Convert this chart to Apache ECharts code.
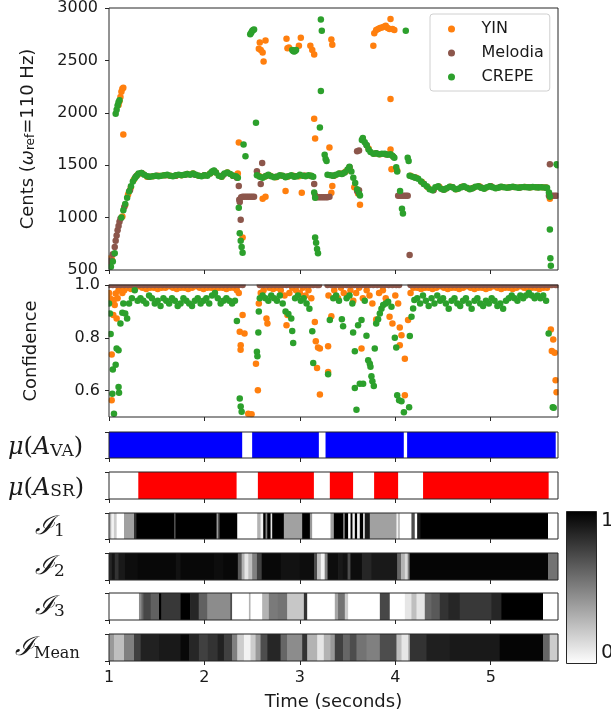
<!DOCTYPE html>
<html><head><meta charset="utf-8">
<script src="https://cdn.jsdelivr.net/npm/echarts@6/dist/echarts.min.js"></script>
<style>html,body{margin:0;padding:0;background:#fff}#c{width:611px;height:721px}</style>
</head><body><div id="c"></div>
<script>
// ---------- axes / ticks ----------
const timeRange = [1, 5.705];
const timeTicks = [1, 2, 3, 4, 5];
const pitchRange = [500, 3000];
const confRange = [0.5, 1.0];
const confTicks = [0.6, 0.8, 1.0];
const seriesNames = ['YIN', 'Melodia', 'CREPE'];
const colorbarTicks = ['1', '0'];

// ---------- pitch (cents) [time, cents] ----------
const yinPitch = [
[1.00,610],[1.01,560],[1.03,600],
[1.10,2075],[1.11,2110],[1.12,2150],[1.13,2200],[1.14,2230],[1.15,2240],[1.15,1792],
[1.14,1010],[1.17,1120],[1.20,1220],[1.23,1290],[1.26,1360],[1.30,1410],[1.35,1420],[1.40,1390],[1.46,1395],[1.52,1400],[1.58,1405],[1.64,1400],[1.70,1400],[1.76,1405],[1.82,1415],[1.88,1420],[1.94,1400],[2.00,1405],[2.06,1420],[2.12,1430],[2.18,1390],[2.24,1430],[2.30,1400],[2.35,1420],
[2.36,1717],[2.40,811],
[2.57,2610],[2.58,2670],[2.59,2600],[2.61,2575],[2.62,2490],[2.64,2690],[2.61,1179],[2.64,1198],
[2.57,1400],[2.63,1390],[2.69,1400],[2.75,1385],[2.81,1400],[2.87,1390],[2.93,1400],[2.99,1395],[3.05,1400],[3.11,1400],
[2.86,2707],[2.885,2622],[2.87,2615],[2.85,1255],[2.99,2640],[3.01,2717],[3.02,1236],
[3.11,2640],[3.13,2600],[3.15,2557],[3.15,1943],[3.16,1755],
[3.31,1670],[3.33,2700],[3.34,2650],[3.33,1236],[3.34,1302],
[3.36,1400],[3.42,1420],[3.48,1440],[3.52,1475],[3.57,1290],[3.61,1230],[3.63,1123],
[3.66,1750],[3.72,1660],[3.78,1610],[3.84,1605],[3.90,1605],[3.95,1600],[3.95,1651],[3.96,1462],[4.02,1450],
[3.77,2640],[3.78,2760],[3.80,2790],[3.82,2800],[3.84,2810],[3.86,2815],[3.88,2820],[3.90,2830],[3.92,2810],[3.94,2800],[3.95,2896],[3.97,2800],[3.99,2790],[3.95,2132],
[4.16,1400],[4.22,1380],[4.28,1340],[4.34,1290],[4.40,1265],[4.46,1295],[4.52,1270],[4.58,1295],[4.64,1270],[4.70,1295],[4.76,1280],[4.82,1285],[4.88,1300],[4.94,1280],[5.00,1298],[5.06,1282],[5.12,1293],[5.18,1287],[5.24,1293],[5.30,1287],[5.36,1291],[5.42,1290],[5.48,1290],[5.54,1290],[5.58,1288],[5.62,1179]
];
const melodiaPitch = [
[1.00,560],[1.02,590],[1.04,650],[1.06,720],[1.07,780],[1.08,830],[1.09,880],[1.10,920],[1.11,960],[1.12,990],
[1.16,1100],[1.22,1260],[1.28,1390],[1.34,1425],[1.42,1390],[1.50,1400],[1.60,1405],[1.70,1400],[1.80,1410],[1.90,1410],[2.00,1405],[2.10,1445],[2.20,1410],[2.30,1400],
[2.34,1380],[2.36,1302],[2.365,1170],[2.38,980],[2.37,1150],[2.385,1195],[2.40,1200],[2.42,1200],[2.44,1200],[2.46,1200],[2.48,1200],[2.50,1200],[2.52,1200],[2.55,1443],[2.59,1320],[2.605,1522],
[2.65,1400],[2.75,1390],[2.85,1390],[2.95,1395],[3.05,1400],[3.12,1395],
[3.15,1320],[3.16,1210],[3.17,1195],[3.19,1195],[3.21,1195],[3.23,1195],[3.25,1195],[3.27,1195],[3.29,1195],[3.31,1200],
[3.35,1400],[3.45,1420],[3.52,1480],[3.60,1255],[3.62,1260],[3.60,1632],[3.62,1640],[3.70,1690],[3.80,1615],[3.90,1605],[3.98,1580],
[4.03,1208],[4.05,1208],[4.07,1208],[4.09,1208],[4.11,1208],[4.13,1208],[4.15,642],
[4.20,1385],[4.30,1320],[4.40,1262],[4.50,1268],[4.60,1290],[4.70,1292],[4.80,1278],[4.90,1287],[5.00,1298],[5.10,1293],[5.20,1290],[5.30,1286],[5.40,1289],[5.50,1289],[5.58,1286],
[5.61,1209],[5.63,1209],[5.65,1209],[5.67,1209],[5.69,1209],[5.71,1209],[5.62,1509]
];
const crepePitch = [
[1.02,530],[1.04,580],[1.06,660],
[1.07,1990],[1.08,2030],[1.09,2070],[1.10,2100],[1.11,2120],
[1.13,1000],[1.15,1070],[1.17,1130],[1.19,1190],[1.21,1250],[1.23,1300],[1.25,1345],[1.27,1375],[1.29,1400],[1.31,1420],[1.34,1425],[1.37,1410],[1.40,1395],[1.43,1390],[1.46,1395],[1.49,1400],[1.52,1395],[1.55,1400],[1.58,1405],[1.61,1410],[1.64,1400],[1.67,1395],[1.70,1405],[1.73,1410],[1.76,1405],[1.79,1410],[1.82,1415],[1.85,1410],[1.88,1420],[1.91,1410],[1.94,1400],[1.97,1395],[2.00,1405],[2.03,1400],[2.06,1420],[2.08,1440],[2.10,1450],[2.12,1430],[2.15,1400],[2.18,1390],[2.21,1420],[2.24,1430],[2.27,1415],[2.30,1400],[2.33,1395],[2.35,1380],
[2.36,1094],[2.37,850],[2.38,780],[2.39,720],[2.40,665],[2.41,1698],[2.43,1585],
[2.48,2750],[2.49,2765],[2.50,2780],[2.51,2790],[2.52,2795],[2.54,1906],
[2.55,1405],[2.58,1390],[2.61,1380],[2.64,1395],[2.67,1410],[2.70,1395],[2.73,1385],[2.76,1390],[2.79,1405],[2.82,1400],[2.85,1385],[2.88,1395],[2.91,1405],[2.94,1390],[2.97,1395],[3.00,1410],[3.03,1400],[3.06,1395],[3.09,1405],[3.12,1400],[3.14,1390],
[2.92,2600],[2.93,2590],[2.94,2585],[2.95,2590],[2.96,2600],
[3.15,1240],[3.16,1190],[3.16,811],[3.17,760],[3.18,700],[3.19,660],
[3.21,1860],[3.22,2208],[3.22,2890],[3.23,2783],[3.26,1600],[3.27,1560],[3.28,1540],
[3.29,1410],[3.32,1405],[3.35,1400],[3.38,1410],[3.41,1420],[3.44,1415],[3.47,1430],[3.50,1460],[3.52,1485],[3.54,1440],[3.56,1380],[3.58,1330],[3.60,1270],[3.62,1230],[3.63,1210],
[3.65,1740],[3.66,1760],[3.68,1720],[3.70,1690],[3.72,1650],[3.74,1625],[3.77,1610],[3.80,1615],[3.83,1605],[3.86,1610],[3.89,1610],[3.92,1600],[3.95,1605],[3.97,1590],[3.99,1570],[4.01,1480],[4.02,1440],
[4.05,1255],[4.07,1085],[4.08,1040],[4.11,2783],[4.13,1570],[4.14,1540],
[4.15,1400],[4.18,1390],[4.21,1380],[4.24,1370],[4.27,1345],[4.30,1320],[4.33,1300],[4.36,1270],[4.39,1260],[4.42,1290],[4.45,1300],[4.48,1275],[4.51,1265],[4.54,1280],[4.57,1295],[4.60,1290],[4.63,1270],[4.66,1275],[4.69,1290],[4.72,1300],[4.75,1285],[4.78,1270],[4.81,1280],[4.84,1295],[4.87,1300],[4.90,1285],[4.93,1275],[4.96,1290],[4.99,1300],[5.02,1290],[5.05,1280],[5.08,1285],[5.11,1295],[5.14,1290],[5.17,1285],[5.20,1290],[5.23,1295],[5.26,1290],[5.29,1285],[5.32,1290],[5.35,1292],[5.38,1290],[5.41,1288],[5.44,1292],[5.47,1290],[5.50,1288],[5.53,1290],[5.56,1288],[5.59,1285],[5.61,1240],[5.62,1200],
[5.62,887],[5.625,613],[5.63,540],[5.69,1509],[5.70,1500]
];

// ---------- confidence [time, confidence] ----------
const yinConf = [
[1.00,.97],[1.01,.95],[1.028,.737],[1.028,.563],[1.045,.886],[1.05,.943],[1.06,.924],[1.07,.968],[1.08,.873],[1.09,.95],[1.10,.98],[1.12,.99],[1.14,.97],[1.16,.98],
[1.19,.99],[1.23,.985],[1.27,.99],[1.31,.995],[1.35,.99],[1.39,.985],[1.43,.99],[1.47,.99],[1.51,.985],[1.55,.99],[1.59,.99],[1.63,.995],[1.67,.99],[1.71,.985],[1.75,.99],[1.79,.99],[1.83,.985],[1.87,.99],[1.91,.995],[1.95,.99],[1.99,.985],[2.03,.99],[2.07,.99],[2.11,.985],[2.15,.99],[2.19,.99],[2.23,.985],[2.27,.99],[2.31,.99],[2.34,.98],
[2.36,.97],[2.37,.823],[2.379,.755],[2.38,.772],[2.40,.886],[2.42,.816],[2.459,.512],[2.494,.51],[2.54,.702],[2.56,.601],[2.57,.93],[2.59,.97],[2.62,.98],[2.65,.873],[2.66,.854],[2.68,.99],[2.72,.985],[2.76,.99],[2.80,.98],[2.84,.96],[2.86,.848],[2.87,.886],[2.89,.97],[2.92,.99],[2.96,.98],[3.00,.97],[3.03,.99],[3.06,.96],[3.09,.98],[3.12,.95],
[3.157,.86],[3.167,.787],[3.18,.686],[3.19,.763],[3.21,.759],[3.21,.585],[3.296,.768],[3.296,.67],[3.30,.96],[3.33,.882],[3.36,.98],[3.40,.95],[3.43,.99],[3.46,.97],[3.50,.96],[3.53,.98],[3.56,.94],[3.59,.97],[3.62,.99],[3.646,.759],[3.66,.95],[3.70,.98],[3.73,.96],[3.76,.93],[3.80,.869],[3.83,.97],[3.87,.98],[3.90,.95],[3.94,.88],[3.97,.854],[4.00,.96],[4.03,.93],[4.047,.839],[4.047,.772],[4.065,.81],[4.10,.721],[4.10,.582],[4.134,.867],[4.16,.97],[4.19,.99],
[4.23,.99],[4.27,.985],[4.31,.99],[4.35,.99],[4.39,.985],[4.43,.99],[4.47,.995],[4.51,.99],[4.55,.985],[4.59,.99],[4.63,.99],[4.67,.985],[4.71,.99],[4.75,.995],[4.79,.99],[4.83,.985],[4.87,.99],[4.91,.99],[4.95,.985],[4.99,.99],[5.03,.995],[5.07,.99],[5.11,.985],[5.15,.99],[5.19,.99],[5.23,.985],[5.27,.99],[5.31,.995],[5.35,.99],[5.39,.985],[5.43,.99],[5.47,.99],[5.51,.985],[5.55,.99],[5.59,.99],
[5.63,.831],[5.64,.75],[5.655,.794],[5.67,.743],[5.68,.639],[5.69,.594]
];
const melodiaConf = [
[1.00,1],[1.04,1],[1.08,1],[1.12,1],[1.16,1],[1.20,1],[1.24,1],[1.28,1],[1.32,1],[1.36,1],[1.40,1],[1.44,1],[1.48,1],[1.52,1],[1.56,1],[1.60,1],[1.64,1],[1.68,1],[1.72,1],[1.76,1],[1.80,1],[1.84,1],[1.88,1],[1.92,1],[1.96,1],[2.00,1],[2.04,1],[2.08,1],[2.12,1],[2.16,1],[2.20,1],[2.24,1],[2.28,1],[2.32,1],[2.36,1],[2.40,1],
[2.58,1],[2.62,1],[2.66,1],[2.70,1],[2.74,1],[2.78,1],[2.82,1],[2.86,1],[2.90,1],[2.94,1],[2.98,1],[3.02,1],[3.06,1],[3.10,1],[3.14,1],[3.18,1],[3.20,1],
[3.29,1],[3.33,1],[3.37,1],[3.41,1],[3.45,1],[3.49,1],[3.53,1],[3.57,1],[3.61,1],[3.65,1],[3.69,1],[3.73,1],[3.77,1],[3.81,1],[3.85,1],[3.89,1],[3.93,1],[3.97,1],[4.01,1],[4.04,1],
[4.16,1],[4.20,1],[4.24,1],[4.28,1],[4.32,1],[4.36,1],[4.40,1],[4.44,1],[4.48,1],[4.52,1],[4.56,1],[4.60,1],[4.64,1],[4.68,1],[4.72,1],[4.76,1],[4.80,1],[4.84,1],[4.88,1],[4.92,1],[4.96,1],[5.00,1],[5.04,1],[5.08,1],[5.12,1],[5.16,1],[5.20,1],[5.24,1],[5.28,1],[5.32,1],[5.36,1],[5.40,1],[5.44,1],[5.48,1],[5.52,1],[5.56,1],[5.60,1],[5.64,1],[5.68,1],[5.70,1]
];
const crepeConf = [
[1.00,.93],[1.01,.892],[1.017,.814],[1.035,.588],[1.04,.68],[1.052,.512],[1.07,.698],[1.08,.759],[1.10,.753],[1.10,.614],[1.105,.592],[1.12,.854],[1.14,.895],[1.15,.93],[1.17,.892],[1.19,.873],
[1.21,.93],[1.24,.95],[1.27,.98],[1.30,.94],[1.33,.95],[1.36,.94],[1.39,.93],[1.42,.96],[1.45,.95],[1.48,.93],[1.51,.94],[1.54,.92],[1.57,.95],[1.60,.94],[1.63,.93],[1.66,.95],[1.69,.94],[1.72,.92],[1.75,.93],[1.78,.95],[1.81,.94],[1.84,.93],[1.87,.92],[1.90,.94],[1.93,.95],[1.96,.93],[1.99,.94],[2.02,.95],[2.05,.93],[2.08,.96],[2.11,.97],[2.14,.95],[2.17,.93],[2.20,.94],[2.23,.95],[2.26,.94],[2.29,.93],[2.32,.94],
[2.34,.864],[2.37,.57],[2.38,.54],[2.39,.52],[2.55,.747],[2.555,.73],[2.565,.82],[2.57,.90],
[2.58,.95],[2.61,.96],[2.64,.95],[2.67,.94],[2.70,.96],[2.73,.95],[2.76,.94],[2.79,.96],[2.82,.93],[2.85,.90],[2.88,.89],[2.91,.873],[2.92,.826],[2.93,.78],[2.95,.95],[2.98,.96],[3.01,.94],[3.04,.95],[3.07,.93],[3.10,.91],[3.13,.825],[3.14,.705],
[3.296,.662],[3.314,.867],[3.35,.95],[3.38,.96],[3.41,.94],[3.44,.87],[3.453,.844],[3.49,.95],[3.52,.96],[3.55,.93],[3.558,.82],[3.576,.749],[3.576,.61],[3.593,.527],[3.61,.848],[3.628,.626],[3.646,.867],[3.663,.626],[3.68,.94],[3.698,.808],[3.716,.715],[3.733,.702],[3.74,.69],[3.75,.654],[3.76,.635],[3.775,.617],[3.785,.759],[3.80,.854],[3.82,.87],[3.838,.892],[3.855,.91],[3.873,.924],[3.90,.93],[3.925,.937],[3.96,.918],[3.995,.80],[4.01,.763],[4.02,.582],[4.04,.563],[4.065,.56],[4.09,.518],[4.145,.537],[4.152,.807],[4.17,.88],[4.187,.911],[4.20,.943],
[4.23,.95],[4.26,.93],[4.29,.96],[4.32,.94],[4.35,.92],[4.38,.95],[4.41,.93],[4.44,.96],[4.47,.94],[4.50,.95],[4.53,.93],[4.56,.91],[4.59,.94],[4.62,.95],[4.65,.93],[4.68,.92],[4.71,.94],[4.74,.95],[4.77,.93],[4.80,.91],[4.83,.94],[4.86,.95],[4.89,.93],[4.92,.92],[4.95,.94],[4.98,.93],[5.01,.95],[5.04,.94],[5.07,.92],[5.10,.93],[5.13,.91],[5.16,.94],[5.19,.95],[5.22,.96],[5.25,.95],[5.28,.94],[5.31,.96],[5.34,.95],[5.37,.96],[5.40,.97],[5.43,.96],[5.46,.95],[5.49,.96],[5.52,.95],[5.55,.96],[5.58,.94],
[5.607,.816],[5.65,.537],[5.66,.535]
];

// ---------- strips: [start time, end time, value] ----------
const vaSegments = [[1.0,2.396,1],[2.396,2.50,0],[2.50,3.199,1],[3.199,3.269,0],[3.269,4.089,1],[4.089,4.124,0],[4.124,5.681,1],[5.681,5.705,0]];
const srSegments = [[1.0,1.307,0],[1.307,2.337,1],[2.337,2.56,0],[2.56,3.147,1],[3.147,3.314,0],[3.314,3.558,1],[3.558,3.778,0],[3.778,4.03,1],[4.03,4.291,0],[4.291,5.607,1],[5.607,5.705,0]];
const i1Segments = [[1.0,1.024,0.3],[1.024,1.052,0.05],[1.052,1.08,0.2],[1.08,1.157,0],[1.157,1.262,0.37],[1.262,1.286,0.8],[1.286,1.681,1],[1.681,1.698,0.7],[1.698,2.127,1],[2.127,2.145,0.4],[2.145,2.162,0.8],[2.162,2.344,1],[2.344,2.553,0],[2.553,2.588,0.3],[2.588,2.616,0.05],[2.616,2.64,1],[2.64,2.658,0.5],[2.658,2.693,1],[2.693,2.71,0.1],[2.71,2.832,1],[2.832,3.024,0.37],[3.024,3.105,1],[3.105,3.129,0.4],[3.129,3.321,0],[3.321,3.356,0.37],[3.356,3.454,1],[3.454,3.471,0.5],[3.471,3.506,1],[3.506,3.531,0],[3.531,3.551,1],[3.551,3.576,0.05],[3.576,3.6,1],[3.6,3.628,0.05],[3.628,3.663,1],[3.663,3.68,0.1],[3.68,3.733,0.9],[3.733,4.012,0.37],[4.012,4.03,0.05],[4.03,4.047,0.3],[4.047,4.169,0],[4.169,4.204,0.7],[4.204,4.229,0],[4.229,4.264,0.9],[4.264,5.6,1],[5.6,5.705,0]];
const i2Segments = [[1.0,1.03,0.85],[1.03,1.06,0.92],[1.06,1.10,0.8],[1.10,1.16,0.9],[1.16,1.30,0.95],[1.30,1.70,0.97],[1.70,1.75,0.93],[1.75,2.10,0.97],[2.10,2.20,0.95],[2.20,2.35,0.97],[2.35,2.39,0.65],[2.39,2.42,0.3],[2.42,2.46,0.1],[2.46,2.50,0.25],[2.50,2.55,0.5],[2.55,2.60,0.75],[2.60,2.80,0.97],[2.80,3.00,0.93],[3.00,3.15,0.95],[3.15,3.18,0.7],[3.18,3.22,0.25],[3.22,3.26,0.05],[3.26,3.29,0.5],[3.29,3.40,0.95],[3.40,3.45,0.9],[3.45,3.50,0.93],[3.50,3.53,0.7],[3.53,3.65,0.95],[3.65,3.75,0.85],[3.75,4.02,0.9],[4.02,4.06,0.6],[4.06,4.10,0.3],[4.10,4.13,0.15],[4.13,4.15,0.5],[4.15,5.60,0.98],[5.60,5.705,0.55]];
const i3Segments = [[1.0,1.314,0],[1.314,1.34,0.45],[1.34,1.36,0.6],[1.36,1.437,0.72],[1.437,1.524,0.62],[1.524,1.548,1],[1.548,1.75,0.78],[1.75,1.85,1],[1.85,1.94,0.85],[1.94,2.03,0.62],[2.03,2.27,0.45],[2.27,2.29,0.7],[2.29,2.466,0],[2.466,2.483,0.3],[2.483,2.605,0],[2.605,2.675,0.3],[2.675,2.762,0.52],[2.762,2.867,0.55],[2.867,3.042,0.22],[3.042,3.077,0.8],[3.077,3.366,0],[3.366,3.40,0.35],[3.40,3.471,0.55],[3.471,3.506,0.2],[3.506,3.838,0],[3.838,3.942,0.72],[3.942,4.10,0],[4.10,4.169,0.1],[4.169,4.222,0.25],[4.222,4.309,0.1],[4.309,4.379,0.6],[4.379,4.466,0.65],[4.466,4.553,0.8],[4.553,4.675,0.85],[4.675,5.007,0.78],[5.007,5.112,0.85],[5.112,5.548,1],[5.548,5.705,0]];
const iMeanSegments = [[1.0,1.052,0.4],[1.052,1.157,0.25],[1.157,1.262,0.5],[1.262,1.332,0.75],[1.332,1.524,0.87],[1.524,1.75,0.9],[1.75,1.838,0.97],[1.838,1.942,0.85],[1.942,2.03,0.75],[2.03,2.134,0.8],[2.134,2.204,0.87],[2.204,2.29,0.75],[2.29,2.344,0.5],[2.344,2.414,0.2],[2.414,2.483,0.05],[2.483,2.536,0.2],[2.536,2.588,0.4],[2.588,2.658,0.7],[2.658,2.798,0.85],[2.798,2.867,0.6],[2.867,3.024,0.45],[3.024,3.077,0.8],[3.077,3.182,0.3],[3.182,3.251,0.1],[3.251,3.321,0.3],[3.321,3.366,0.4],[3.366,3.454,0.75],[3.454,3.524,0.6],[3.524,3.593,0.7],[3.593,3.698,0.55],[3.698,3.838,0.5],[3.838,4.012,0.7],[4.012,4.065,0.25],[4.065,4.134,0.1],[4.134,4.152,0.3],[4.152,4.327,0.8],[4.327,4.571,0.88],[4.571,5.094,0.9],[5.094,5.548,0.98],[5.548,5.618,0.6],[5.618,5.705,0.2]];

// ---------- layout & styling ----------
const COLORS = {YIN:'#ff7f0e', Melodia:'#8c564b', CREPE:'#2ca02c'};
const SANS = 'DejaVu Sans';
const SERIF = 'DejaVu Serif';
const TXT = '#1a1a1a';
const FRAME = '#262626';
const LEFT = 109, WIDTH = 449;
const gridBoxes = [
  {top:5, height:265},{top:285, height:132},{top:432, height:26},{top:472, height:27},
  {top:513, height:26},{top:553, height:27},{top:593, height:27},{top:634, height:27}
];
const stripRich = {
  m:{fontFamily:SERIF, fontStyle:'italic', fontSize:24, color:TXT},
  p:{fontFamily:SERIF, fontSize:24, color:TXT},
  c:{fontFamily:SERIF, fontStyle:'italic', fontSize:26, color:TXT},
  s:{fontFamily:SERIF, fontSize:17, verticalAlign:'bottom', lineHeight:12, color:TXT},
  t:{fontFamily:SERIF, fontSize:16, verticalAlign:'bottom', lineHeight:11, color:TXT}
};
// label text, gap from the axis to the label's left edge, top padding
const stripLabels = [
  ['{m|μ}{p|(}{m|A}{s|VA}{p|)}', 101, 6],
  ['{m|μ}{p|(}{m|A}{s|SR}{p|)}', 101, 6],
  ['{c|ℐ}{s|1}', 74, 2],
  ['{c|ℐ}{s|2}', 74, 2],
  ['{c|ℐ}{s|3}', 74, 2],
  ['{c|ℐ}{t|Mean}', 94, 2]
];

const grid = gridBoxes.map(g => ({left:LEFT, width:WIDTH, top:g.top, height:g.height, show:true,
  borderColor:FRAME, borderWidth:1, backgroundColor:'transparent', z:10}));

const xAxis = gridBoxes.map((g,i) => ({
  type:'value', gridIndex:i, min:timeRange[0], max:timeRange[1], z:12,
  axisLine:{show:false}, splitLine:{show:false},
  axisTick:{show:true, customValues:timeTicks, length:4, lineStyle:{color:FRAME}},
  axisLabel:{show:i===7, customValues:timeTicks, fontSize:16, color:TXT, fontFamily:SANS, margin:9},
  name: i===7 ? 'Time (seconds)' : '', nameLocation:'middle', nameGap:32,
  nameTextStyle:{fontSize:18, color:TXT, fontFamily:SANS}
}));

const yAxis = [
  {type:'value', gridIndex:0, min:pitchRange[0], max:pitchRange[1], interval:500, z:12,
   axisLine:{show:false}, splitLine:{show:false},
   axisTick:{show:true, length:4, lineStyle:{color:FRAME}},
   axisLabel:{fontSize:16, color:TXT, fontFamily:SANS, margin:11, formatter:v=>String(v)},
   name:'{n|Cents (}{w|ω}{s|ref}{n|=110 Hz)}', nameLocation:'middle', nameGap:72,
   nameTextStyle:{fontSize:18, color:TXT, fontFamily:SANS,
     rich:{n:{fontSize:18, fontFamily:SANS, color:TXT}, w:{fontSize:18, fontStyle:'italic', fontFamily:SANS, color:TXT},
           s:{fontSize:12, fontFamily:SANS, verticalAlign:'bottom', lineHeight:9, color:TXT}}}},
  {type:'value', gridIndex:1, min:confRange[0], max:confRange[1], z:12,
   axisLine:{show:false}, splitLine:{show:false},
   axisTick:{show:true, customValues:confTicks, length:4, lineStyle:{color:FRAME}},
   axisLabel:{customValues:confTicks, fontSize:16, color:TXT, fontFamily:SANS, margin:9, formatter:v=>v.toFixed(1)},
   name:'Confidence', nameLocation:'middle', nameGap:69,
   nameTextStyle:{fontSize:18, color:TXT, fontFamily:SANS}}
];
stripLabels.forEach(([lab, gap, padTop], k) => {
  yAxis.push({type:'value', gridIndex:k+2, min:0, max:1, z:12,
    axisLine:{show:false}, splitLine:{show:false},
    axisTick:{show:true, customValues:[0,1], length:4, lineStyle:{color:FRAME}},
    axisLabel:{show:false},
    name:lab, nameLocation:'middle', nameRotate:0, nameGap:gap,
    nameTextStyle:{align:'left', verticalAlign:'middle', padding:[padTop,0,0,0], rich:stripRich}});
});

function scatter(name, data, idx) {
  return {type:'scatter', name, data, xAxisIndex:idx, yAxisIndex:idx, symbolSize:6.5,
    itemStyle:{color:COLORS[name], opacity:1}, clip:true, silent:true};
}
function gray(v){ const g = Math.round(255*(1-v)); return `rgb(${g},${g},${g})`; }
function strip(idx, segs, colorFn) {
  return {type:'custom', xAxisIndex:idx, yAxisIndex:idx, data:segs, clip:true, silent:true,
    encode:{x:[0,1], y:2},
    renderItem:(params, api) => {
      const a = api.coord([api.value(0), 1]);
      const b = api.coord([api.value(1), 0]);
      return {type:'rect', shape:{x:a[0], y:a[1], width:b[0]-a[0]+0.6, height:b[1]-a[1]},
        style:{fill:colorFn(api.value(2))}};
    }};
}

const series = [
  scatter('YIN', yinPitch, 0), scatter('Melodia', melodiaPitch, 0), scatter('CREPE', crepePitch, 0),
  scatter('YIN', yinConf, 1), scatter('Melodia', melodiaConf, 1), scatter('CREPE', crepeConf, 1),
  strip(2, vaSegments, v => v > 0.5 ? '#0000ff' : '#ffffff'),
  strip(3, srSegments, v => v > 0.5 ? '#ff0000' : '#ffffff'),
  strip(4, i1Segments, gray), strip(5, i2Segments, gray), strip(6, i3Segments, gray), strip(7, iMeanSegments, gray)
];

// white masks that trim markers at the plot edges (like matplotlib clipping)
const masks = [
  {x:100, y:0, w:8.5, h:426}, {x:558.5, y:0, w:8, h:426},
  {x:100, y:270.5, w:467, h:6}, {x:100, y:278, w:467, h:6.5}, {x:100, y:417.5, w:467, h:7}
].map(m => ({type:'rect', z:5, silent:true, shape:{x:m.x, y:m.y, width:m.w, height:m.h}, style:{fill:'#fff'}}));

// legend marker: a dot on the left of a wider (invisible) icon box
const legendDot = 'path://M0,3.5 A3.5,3.5 0 1 1 7,3.5 A3.5,3.5 0 1 1 0,3.5 Z M28.5,3.5 L28.5,3.5';

const chart = echarts.init(document.getElementById('c'), null, {renderer:'canvas'});
chart.setOption({
  animation:false,
  backgroundColor:'#fff',
  grid, xAxis, yAxis, series,
  legend:{data:seriesNames.map(n => ({name:n, icon:legendDot})), orient:'vertical', left:430, top:14,
    padding:[7,6,6,18], itemWidth:28.5, itemHeight:7, itemGap:8, selectedMode:false,
    textStyle:{fontSize:16, lineHeight:16, color:TXT, fontFamily:SANS},
    borderColor:'#d0d0d0', borderWidth:1, borderRadius:3, backgroundColor:'rgba(255,255,255,0.85)', z:20},
  graphic:masks.concat([
    {type:'rect', left:566, top:511, z:20, shape:{width:30, height:152},
     style:{fill:{type:'linear', x:0, y:0, x2:0, y2:1, colorStops:[{offset:0,color:'#000'},{offset:1,color:'#fff'}]},
            stroke:FRAME, lineWidth:1}},
    {type:'text', left:601, top:511, z:20, style:{text:colorbarTicks[0], fontSize:20, fontFamily:SANS, fill:TXT}},
    {type:'text', left:601, top:643, z:20, style:{text:colorbarTicks[1], fontSize:20, fontFamily:SANS, fill:TXT}}
  ])
});
</script></body></html>
